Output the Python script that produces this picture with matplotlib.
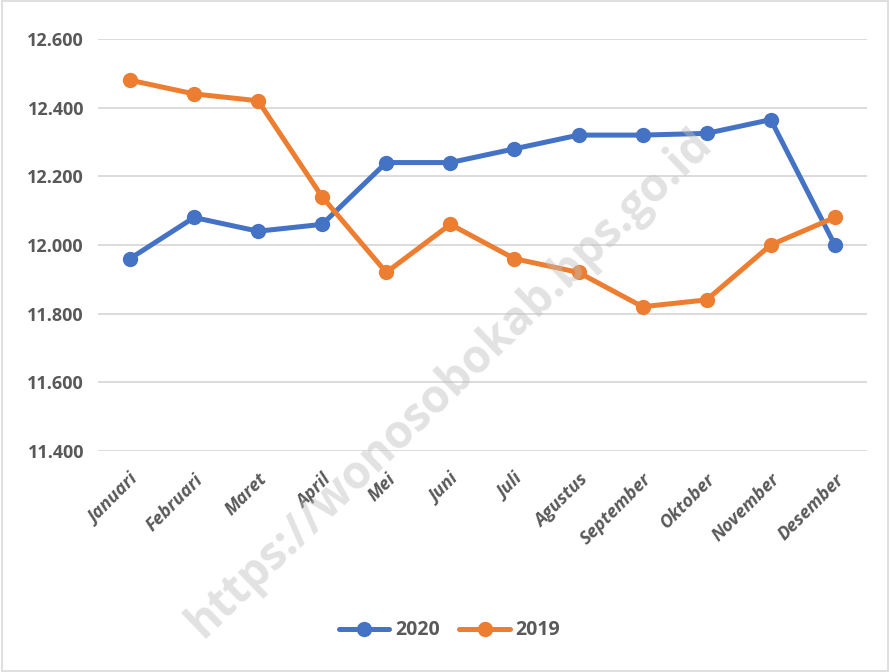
import matplotlib
matplotlib.use("Agg")
import matplotlib.pyplot as plt
from matplotlib.patches import Rectangle

months = ["Januari", "Februari", "Maret", "April", "Mei", "Juni", "Juli",
          "Agustus", "September", "Oktober", "November", "Desember"]
v2020 = [11.96, 12.08, 12.04, 12.06, 12.24, 12.24, 12.28, 12.32, 12.32, 12.325, 12.365, 12.00]
v2019 = [12.48, 12.44, 12.42, 12.14, 11.92, 12.06, 11.96, 11.92, 11.82, 11.84, 12.00, 12.08]
yticks = [11.4, 11.6, 11.8, 12.0, 12.2, 12.4, 12.6]
ylabels = ["11.400", "11.600", "11.800", "12.000", "12.200", "12.400", "12.600"]

plt.rcParams['font.family'] = ['Open Sans', 'DejaVu Sans']
fig = plt.figure(figsize=(8.9, 6.72), dpi=100)
ax = fig.add_axes([0.110, 0.329, 0.864, 0.613])

x = list(range(len(months)))
blue = "#4472C4"
orange = "#ED7D31"
ax.plot(x, v2020, color=blue, lw=3.6, marker='o', ms=10, label="2020",
        solid_capstyle='round', solid_joinstyle='round')
ax.plot(x, v2019, color=orange, lw=3.6, marker='o', ms=10, label="2019",
        solid_capstyle='round', solid_joinstyle='round')

ax.set_xlim(-0.5, 11.5)
ax.set_ylim(11.4, 12.6)
ax.set_yticks(yticks)
ax.set_yticklabels(ylabels, fontsize=13, fontweight='bold', color='#595959')
ax.set_xticks(x)
ax.set_xticklabels(months, rotation=45, ha='right', rotation_mode='anchor',
                   fontsize=13, fontweight='bold', fontstyle='italic', color='#595959')
ax.tick_params(axis='y', length=0, pad=10)
ax.tick_params(axis='x', length=0, pad=14)
ax.grid(axis='y', color='#D9D9D9', lw=1.3)
ax.set_axisbelow(True)
for s in ax.spines.values():
    s.set_visible(False)

leg = fig.legend(loc='center', bbox_to_anchor=(0.505, 0.062), ncol=2, frameon=False,
                 prop={'weight': 'bold', 'size': 14}, handlelength=2.6, columnspacing=1.0,
                 handletextpad=0.3)
for t in leg.get_texts():
    t.set_color('#595959')

fig.text(0.505, 0.43, "https://wonosobokab.bps.go.id", rotation=44, ha='center', va='center',
         fontsize=33, fontweight='bold', color='#BFBFBF', alpha=0.45)

fig.patches.append(Rectangle((0.002, 0.002), 0.996, 0.996, transform=fig.transFigure,
                             fill=False, edgecolor='#D9D9D9', lw=1.2))
fig.savefig("out.png", dpi=100)
